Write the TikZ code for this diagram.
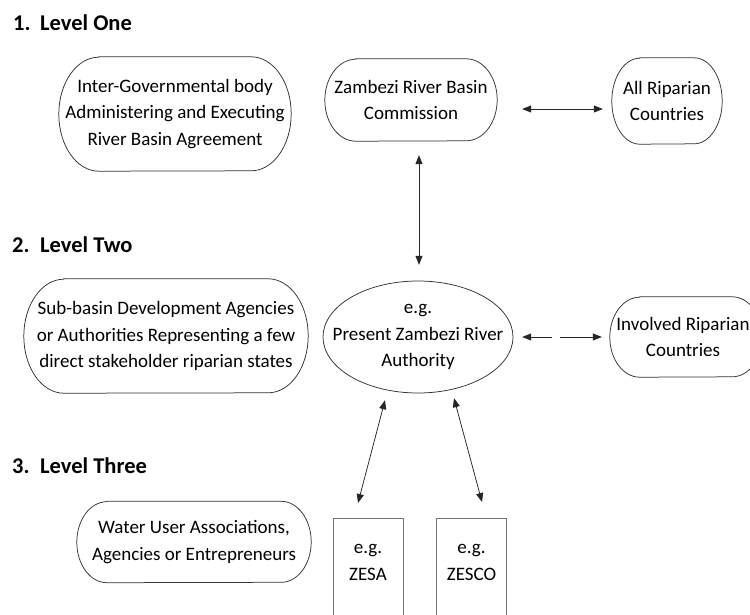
\documentclass[tikz,border=0pt]{standalone}
\usepackage{fontspec}
\setmainfont{Carlito}
\usetikzlibrary{arrows.meta,calc}

% Outline of a pill-shaped box around a named node:
% #1 node name, #2 horizontal corner radius, #3 half height (both in pt)
\newcommand\pillframe[3]{%
  \draw[frame] ([xshift=#2pt]#1.north west) -- ([xshift=-#2pt]#1.north east)
    arc[start angle=90, end angle=-90, x radius=#2pt, y radius=#3pt]
    -- ([xshift=#2pt]#1.south west)
    arc[start angle=270, end angle=90, x radius=#2pt, y radius=#3pt] -- cycle;}

\begin{document}
\begin{tikzpicture}[x=1pt,y=-1pt,
  txt/.style={font=\fontsize{19}{26.5}\selectfont, align=center, inner sep=0pt},
  title/.style={font=\fontsize{22.5}{26}\selectfont\bfseries, anchor=base west, inner sep=0pt},
  frame/.style={draw=black!80, line width=0.75pt},
  openbox/.style={draw=black!55, line width=0.6pt, inner sep=0pt,
    minimum width=70pt, minimum height=140pt, anchor=north},
  link/.style={draw=black!85, line width=0.75pt,
    {Triangle[length=9pt,width=7pt]}-{Triangle[length=9pt,width=7pt]}}
]
\clip (0,0) rectangle (750,614);
\fill[white] (0,0) rectangle (750,614);

% level headings
\node[title] (t1) at (13,30)  {\makebox[27pt][l]{1.}Level One};
\node[title] (t2) at (12,252) {\makebox[28pt][l]{2.}Level Two};
\node[title] (t3) at (12,473) {\makebox[28pt][l]{3.}Level Three};

% level one
\node[txt, minimum width=232pt, minimum height=114pt] (igb) at (175,114)
  {Inter-Governmental body\\Administering and Executing\\River Basin Agreement};
\pillframe{igb}{40}{57}

\node[txt, minimum width=172pt, minimum height=82pt] (zrbc) at (411,100)
  {Zambezi River Basin\\Commission};
\pillframe{zrbc}{31}{41}

\node[txt, minimum width=110pt, minimum height=86pt] (allrip) at (667,101)
  {All Riparian\\Countries};
\pillframe{allrip}{28}{43}

% level two
\node[txt, minimum width=284pt, minimum height=114pt] (sub) at (166,336)
  {Sub-basin Development Agencies\\or Authorities Representing a few\\direct stakeholder riparian states};
\pillframe{sub}{40}{57}

\node[txt, minimum width=190pt, minimum height=112pt] (zra) at (418,337)
  {e.g.\\Present Zambezi River\\Authority};
\draw[frame] (zra.center) ellipse[x radius=95pt, y radius=56pt];

\node[txt, minimum width=152pt, minimum height=80pt] (invrip) at (686,337) {};
\pillframe{invrip}{30}{40}
\node[txt] (invtxt) at ($(invrip.center)+(-3,0)$) {Involved Riparian\\Countries};

% level three
\node[txt, minimum width=234pt, minimum height=81pt] (wua) at (194,542)
  {Water User Associations,\\Agencies or Entrepreneurs};
\pillframe{wua}{30}{40.5}

\node[openbox] (zesa) at (368,518) {};
\node[txt] (zesatxt) at ($(zesa.north)+(0,44.5)$) {e.g.\\ZESA};
\node[openbox] (zesco) at (471.5,518) {};
\node[txt] (zescotxt) at ($(zesco.north)+(0,44.5)$) {e.g.\\ZESCO};

% connectors
\draw[link] ([xshift=25pt,yshift=-9pt]zrbc.east) -- ([xshift=-9pt,yshift=-8pt]allrip.west);
\draw[link] ($(zra.north |- zrbc.south)+(1,14)$) -- ($(zra.north)+(1,-16)$);
\draw[link, dash pattern=on 21pt off 8pt on 80pt] ($(zra.east)+(9,0)$) -- ($(invrip.west)+(-8,0)$);
\draw[link] ($(zra.south)+(-33,7)$) -- ($(zesa.north)+(-10,-15)$);
\draw[link] ($(zra.south)+(36,5)$) -- ($(zesco.north)+(10.5,-16)$);
\end{tikzpicture}
\end{document}
